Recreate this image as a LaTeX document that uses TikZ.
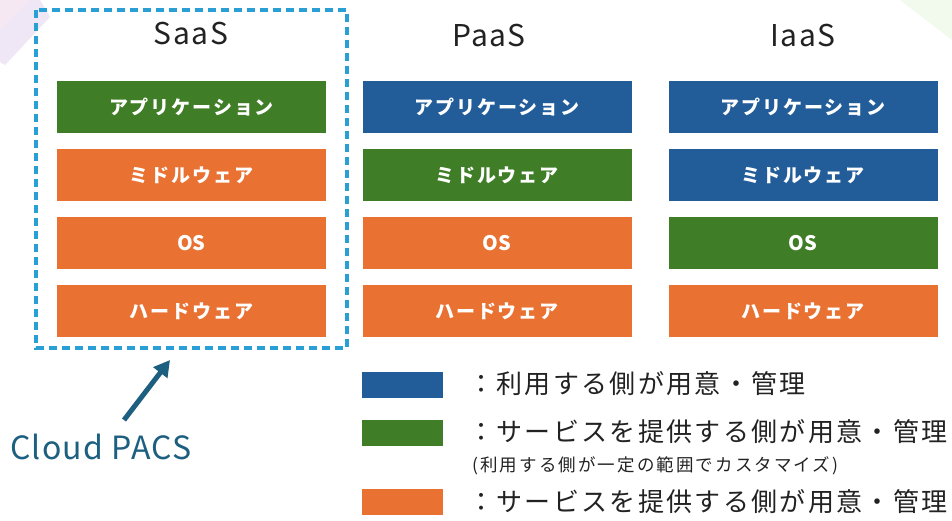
\documentclass[tikz,border=0pt]{standalone}
\usepackage{fontspec}
\setmainfont{Noto Sans CJK JP}
\usetikzlibrary{arrows.meta}
\definecolor{cgreen}{HTML}{407D27}
\definecolor{corange}{HTML}{E97132}
\definecolor{cblue}{HTML}{225D99}
\definecolor{cdash}{HTML}{2A9FD6}
\definecolor{cteal}{HTML}{1D5F80}
\definecolor{ctitle}{HTML}{222222}
\definecolor{clav}{HTML}{EFE6F6}
\definecolor{cpink}{HTML}{F5E8F3}
\definecolor{cmint}{HTML}{F2FAEE}
\tikzset{
  layer/.style={fill=#1, draw=none, minimum width=269pt, minimum height=52pt,
    inner sep=0pt, text=white, font=\fontsize{19}{22}\selectfont\bfseries\addfontfeature{LetterSpace=10}},
  oslayer/.style={layer=#1, font=\fontsize{20}{22}\selectfont\bfseries},
  title/.style={text=ctitle, font=\fontsize{30}{33}\selectfont\addfontfeature{LetterSpace=5}, inner sep=0pt},
  swatch/.style={fill=#1, draw=none, minimum width=81pt, minimum height=26pt, inner sep=0pt},
  legtext/.style={anchor=west, text=ctitle, font=\fontsize{26}{30}\selectfont\addfontfeature{LetterSpace=9}, inner sep=0pt},
}
\begin{document}
\begin{tikzpicture}[x=1pt,y=-1pt]
\useasboundingbox (0,0) rectangle (952,520);
\fill[white] (0,0) rectangle (952,520);
% faint background decorations
\fill[cpink] (0,0) -- (30,0) -- (0,30) -- cycle;
\fill[clav] (30,0) -- (40,0) -- (50,17) -- (5,65) -- (0,62) -- (0,30) -- cycle;
\fill[cmint] (900,0) -- (952,0) -- (952,40) -- cycle;
% dashed SaaS frame
\draw[cdash, line width=3.4pt, dash pattern=on 8pt off 5pt] (36,10) rectangle (347,348);
% titles
\node[title] (tsaas) at (191,34) {SaaS};
\node[title] (tpaas) at (489,36) {PaaS};
\node[title] (tiaas) at (803,36) {IaaS};
% SaaS column
\node[layer=cgreen] (s1) at (191.5,107) {アプリケーション};
\node[layer=corange] (s2) at (191.5,175) {ミドルウェア};
\node[oslayer=corange] (s3) at (191.5,243) {OS};
\node[layer=corange] (s4) at (191.5,311) {ハードウェア};
% PaaS column
\node[layer=cblue] (p1) at (497,107) {アプリケーション};
\node[layer=cgreen] (p2) at (497,175) {ミドルウェア};
\node[oslayer=corange] (p3) at (497,243) {OS};
\node[layer=corange] (p4) at (497,311) {ハードウェア};
% IaaS column
\node[layer=cblue] (i1) at (803,107) {アプリケーション};
\node[layer=cblue] (i2) at (803,175) {ミドルウェア};
\node[oslayer=cgreen] (i3) at (803,243) {OS};
\node[layer=corange] (i4) at (803,311) {ハードウェア};
% Cloud PACS label and arrow
\node[text=cteal, font=\fontsize{32}{35}\selectfont\addfontfeature{LetterSpace=4}, inner sep=0pt] (pacs) at (101,447) {Cloud PACS};
\coordinate (arrtip) at (170,360);
\coordinate (arrbase) at (124,420);
\draw[cteal, line width=5pt, -{Triangle[length=16pt,width=17pt]}] (arrbase) -- (arrtip);
% legend
\node[swatch=cblue] (lb) at (402.5,384.5) {};
\node[swatch=cgreen] (lg) at (402.5,432.5) {};
\node[swatch=corange] (lo) at (402.5,501.5) {};
\node[legtext] (tb) at (468,384) {：利用する側が用意・管理};
\node[legtext] (tg) at (468,432) {：サービスを提供する側が用意・管理};
\node[anchor=west, text=ctitle, font=\fontsize{17.5}{20}\selectfont\addfontfeature{LetterSpace=12}, inner sep=0pt] (tn) at (472,466) {(利用する側が一定の範囲でカスタマイズ)};
\node[legtext] (to) at (468,502) {：サービスを提供する側が用意・管理};
\end{tikzpicture}
\end{document}
